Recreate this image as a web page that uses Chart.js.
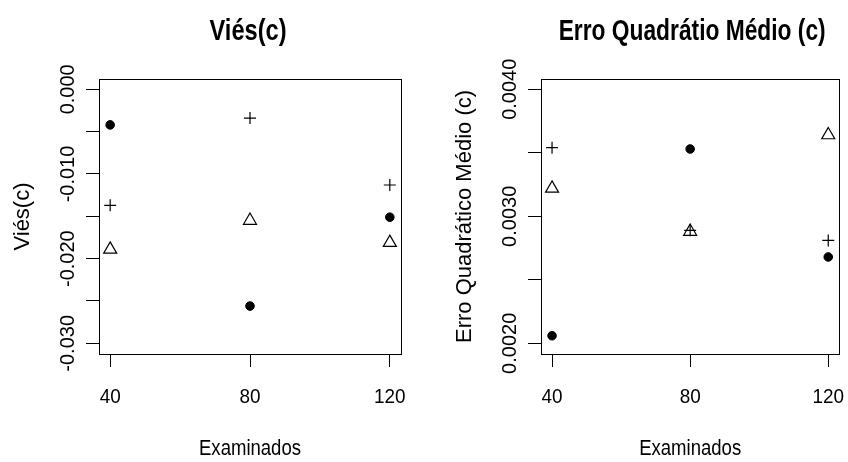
<!DOCTYPE html>
<html>
<head>
<meta charset="utf-8">
<script src="https://cdn.jsdelivr.net/npm/chart.js@4.4.1/dist/chart.umd.min.js"></script>
<style>
  body { margin: 0; background: #fff; }
  #wrap { position: relative; width: 848px; height: 462px; }
  canvas { position: absolute; top: 0; }
</style>
</head>
<body>
<div id="wrap">
  <canvas id="viesChart" width="424" height="462" style="left:0"></canvas>
  <canvas id="eqmChart" width="424" height="462" style="left:424px"></canvas>
</div>
<script>
// numero de examinados (eixo x)
const examinados = [40, 80, 120];
const xTicks = [40, 80, 120];

// Viés(c): um array por simbolo
const viesCirculo = [-0.0042, -0.0256, -0.0151];
const viesCruz = [-0.0137, -0.0034, -0.0113];
const viesTriangulo = [-0.0189, -0.0155, -0.0181];
const viesTicks = [0, -0.005, -0.010, -0.015, -0.020, -0.025, -0.030];
const viesLabelTicks = [0, -0.010, -0.020, -0.030];
const viesLabels = ['0.000', '-0.010', '-0.020', '-0.030'];

// Erro Quadrático Médio (c)
const eqmCirculo = [0.00206, 0.00353, 0.00268];
const eqmCruz = [0.00354, 0.00289, 0.00281];
const eqmTriangulo = [0.00322, 0.00288, 0.00364];
const eqmTicks = [0.0020, 0.0025, 0.0030, 0.0035, 0.0040];
const eqmLabelTicks = [0.0020, 0.0030, 0.0040];
const eqmLabels = ['0.0020', '0.0030', '0.0040'];

function toPoints(ys) {
    return examinados.map((x, i) => ({ x: x, y: ys[i] }));
}

// draws text centred at (x,y) on its baseline; width squeezes it horizontally
function drawText(ctx, text, x, y, font, width, angle) {
    ctx.save();
    ctx.font = font;
    ctx.fillStyle = '#000';
    ctx.textAlign = 'center';
    ctx.textBaseline = 'alphabetic';
    ctx.translate(x, y);
    if (angle) ctx.rotate(angle);
    if (width) ctx.scale(width / ctx.measureText(text).width, 1);
    ctx.fillText(text, 0, 0);
    ctx.restore();
}

// box, texts and tick labels the way R draws them
const rPlot = {
    id: 'rPlot',
    afterDraw(chart, args, opts) {
        const ctx = chart.ctx;
        const a = chart.chartArea;
        const xs = chart.scales.x, ys = chart.scales.y;
        ctx.save();
        ctx.strokeStyle = '#000';
        ctx.lineWidth = 1;
        ctx.strokeRect(Math.round(a.left) + 0.5, Math.round(a.top) + 0.5,
            Math.round(a.right - a.left), Math.round(a.bottom - a.top));
        ctx.restore();

        const cx = (a.left + a.right) / 2;
        const cy = (a.top + a.bottom) / 2;
        drawText(ctx, opts.title, cx + opts.titleShift, 40, 'bold 29px "Liberation Sans"', opts.titleWidth);
        drawText(ctx, opts.yTitle, a.left - 70.5, cy, '22px "Liberation Sans"', 0, -Math.PI / 2);
        opts.yLabelTicks.forEach((v, i) => {
            drawText(ctx, opts.yLabels[i], a.left - 25.5, ys.getPixelForValue(v), '20px "Liberation Sans"', 0, -Math.PI / 2);
        });
        xTicks.forEach(v => {
            const txt = String(v);
            ctx.font = '21px "Liberation Sans"';
            drawText(ctx, txt, xs.getPixelForValue(v), 403, '21px "Liberation Sans"', ctx.measureText(txt).width * 0.9);
        });
        drawText(ctx, 'Examinados', cx, 455, '22px "Liberation Sans"', 102);
    }
};

function makeChart(id, circulo, cruz, triangulo, yMin, yMax, yTicks, plotOpts, padding) {
    return new Chart(document.getElementById(id), {
        type: 'scatter',
        data: {
            datasets: [
                { data: toPoints(circulo), pointStyle: 'circle', radius: 4.3, backgroundColor: '#000', borderColor: '#000', borderWidth: 1 },
                { data: toPoints(cruz), pointStyle: 'cross', radius: 6, borderColor: '#000', borderWidth: 1.2 },
                { data: toPoints(triangulo), pointStyle: 'triangle', radius: 7.5, backgroundColor: 'rgba(0,0,0,0)', borderColor: '#000', borderWidth: 1.2 }
            ]
        },
        options: {
            responsive: false,
            animation: false,
            events: [],
            layout: { padding: padding },
            plugins: {
                legend: { display: false },
                tooltip: { enabled: false },
                rPlot: plotOpts
            },
            scales: {
                x: {
                    type: 'linear', min: 36.8, max: 123.2,
                    afterBuildTicks: s => { s.ticks = xTicks.map(v => ({ value: v })); },
                    ticks: { display: false },
                    grid: { drawOnChartArea: false, tickLength: 13, color: '#000' },
                    border: { color: '#000', width: 1 }
                },
                y: {
                    type: 'linear', min: yMin, max: yMax,
                    afterBuildTicks: s => { s.ticks = yTicks.map(v => ({ value: v })); },
                    ticks: { display: false },
                    grid: { drawOnChartArea: false, tickLength: 13, color: '#000' },
                    border: { color: '#000', width: 1 }
                }
            }
        },
        plugins: [rPlot]
    });
}

makeChart('viesChart', viesCirculo, viesCruz, viesTriangulo, -0.03126, 0.00122, viesTicks,
    { title: 'Viés(c)', titleWidth: 77, titleShift: -2, yTitle: 'Viés(c)', yLabelTicks: viesLabelTicks, yLabels: viesLabels },
    { left: 86, right: 23, top: 79, bottom: 95 });

makeChart('eqmChart', eqmCirculo, eqmCruz, eqmTriangulo, 0.001916, 0.004081, eqmTicks,
    { title: 'Erro Quadrátio Médio (c)', titleWidth: 267, titleShift: 2, yTitle: 'Erro Quadrático Médio (c)', yLabelTicks: eqmLabelTicks, yLabels: eqmLabels },
    { left: 104, right: 5, top: 79, bottom: 95 });
</script>
</body>
</html>
